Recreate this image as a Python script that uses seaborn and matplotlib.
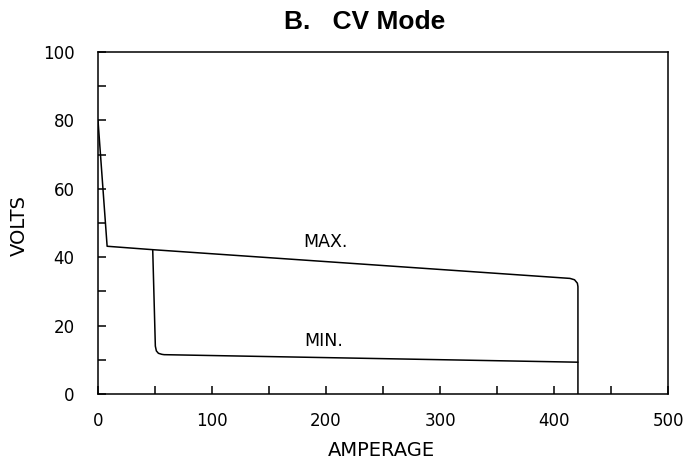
import matplotlib
matplotlib.use("Agg")
import matplotlib.pyplot as plt
import numpy as np
import pandas as pd
import seaborn as sns

# Volt-ampere curves (amps, volts)
max_amps = [0, 8, 48, 414, 418, 420.5, 421, 421]
max_volts = [80, 43.2, 42.2, 33.8, 33.4, 32.4, 31.4, 0]
min_amps = [48, 50.3, 51.2, 53, 56, 58, 421]
min_volts = [42.2, 14.0, 12.6, 11.9, 11.6, 11.5, 9.3]

x_major = [0, 100, 200, 300, 400, 500]
y_major = [0, 20, 40, 60, 80, 100]

curve_labels = ["MAX.", "MIN."]
label_pos = [(180, 44.3), (181, 15.4)]

sns.set_style("white")
plt.rcParams["font.family"] = ["DejaVu Sans"]
plt.rcParams.update({"text.color": "black", "xtick.color": "black",
                     "ytick.color": "black", "axes.labelcolor": "black"})

W, H = 687, 466
fig = plt.figure(figsize=(W / 100, H / 100), dpi=100)
ax = fig.add_axes([98 / W, (H - 394) / H, 570 / W, 342 / H])

df_max = pd.DataFrame({"amps": max_amps, "volts": max_volts})
df_min = pd.DataFrame({"amps": min_amps, "volts": min_volts})
for d in (df_max, df_min):
    sns.lineplot(data=d, x="amps", y="volts", sort=False, estimator=None,
                 color="black", linewidth=1.1, ax=ax)

for text, (lx, ly) in zip(curve_labels, label_pos):
    ax.text(lx, ly, text, fontsize=12.5, ha="left", va="center", color="black")

ax.set_xlim(0, 500)
ax.set_ylim(0, 100)
ax.set_xticks(x_major)
ax.set_yticks(y_major)
ax.set_xticks(np.arange(50, 500, 100), minor=True)
ax.set_yticks(np.arange(10, 100, 20), minor=True)
ax.tick_params(which="both", direction="in", length=5.8, width=1.1,
               color="black", labelcolor="black",
               bottom=True, left=True, top=False, right=False)
ax.tick_params(axis="x", which="major", pad=13, labelsize=12)
ax.tick_params(axis="y", which="major", pad=17, labelsize=12)
for s in ax.spines.values():
    s.set_visible(True)
    s.set_color("black")
    s.set_linewidth(1.1)

ax.set_xlabel("")
ax.set_ylabel("")
fig.text(381 / W, 1 - 451 / H, "AMPERAGE", fontsize=14, ha="center", va="center",
         color="black")
fig.text(19 / W, 1 - 226 / H, "VOLTS", fontsize=14, rotation=90, ha="center",
         va="center", color="black")
fig.text(365 / W, 1 - 22 / H, "B.   CV Mode", fontsize=19, fontweight="bold",
         family=["Liberation Sans", "DejaVu Sans"], ha="center", va="center",
         color="black")

fig.savefig("out.png", dpi=100)
